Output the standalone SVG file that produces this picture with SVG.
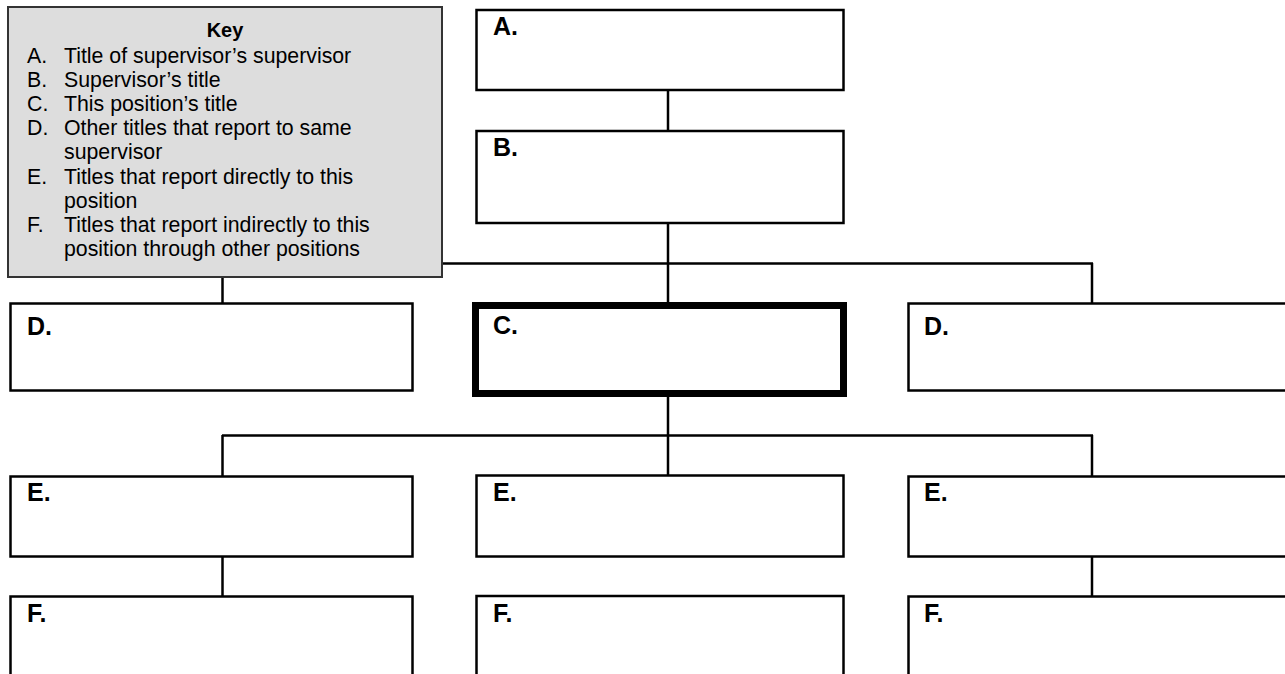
<svg xmlns="http://www.w3.org/2000/svg" width="1285" height="674" viewBox="0 0 1285 674">
  <style>
    .box { fill: #ffffff; stroke: #000000; stroke-width: 2.5; }
    .thick { fill: #ffffff; stroke: #000000; stroke-width: 7; }
    .lbl { font-family: "Liberation Sans", Arial, sans-serif; font-weight: bold; font-size: 25px; fill: #000000; }
    .conn { stroke: #000000; stroke-width: 2.5; fill: none; }
    .key { fill: #dddddd; stroke: #333333; stroke-width: 2; }
    .kt { font-family: "Liberation Sans", Arial, sans-serif; font-size: 21.3px; fill: #000000; }
    .kh { font-family: "Liberation Sans", Arial, sans-serif; font-size: 20px; font-weight: bold; fill: #000000; }
  </style>
  <rect width="1285" height="674" fill="#ffffff"/>
  <g id="connectors">
    <line class="conn" x1="668" y1="90" x2="668" y2="131"/>
    <line class="conn" x1="668" y1="223" x2="668" y2="303"/>
    <line class="conn" x1="222" y1="263.5" x2="1093" y2="263.5"/>
    <line class="conn" x1="222.5" y1="263" x2="222.5" y2="304"/>
    <line class="conn" x1="1092" y1="263" x2="1092" y2="304"/>
    <line class="conn" x1="668" y1="396" x2="668" y2="436"/>
    <line class="conn" x1="222" y1="435.5" x2="1093" y2="435.5"/>
    <line class="conn" x1="222.5" y1="435" x2="222.5" y2="477"/>
    <line class="conn" x1="668" y1="435" x2="668" y2="477"/>
    <line class="conn" x1="1092" y1="435" x2="1092" y2="477"/>
    <line class="conn" x1="222.5" y1="556" x2="222.5" y2="597"/>
    <line class="conn" x1="1092" y1="556" x2="1092" y2="597"/>
  </g>
  <g id="nodeA">
    <rect class="box" x="476.5" y="10" width="367" height="80"/>
    <text class="lbl" x="493" y="35">A.</text>
  </g>
  <g id="nodeB">
    <rect class="box" x="476.5" y="131" width="367" height="92"/>
    <text class="lbl" x="493" y="156">B.</text>
  </g>
  <g id="nodeD1">
    <rect class="box" x="10.5" y="303.5" width="402" height="87"/>
    <text class="lbl" x="27" y="335">D.</text>
  </g>
  <g id="nodeC">
    <rect class="thick" x="475.5" y="305.5" width="368" height="88"/>
    <text class="lbl" x="493" y="334">C.</text>
  </g>
  <g id="nodeD2">
    <rect class="box" x="908.5" y="303.5" width="400" height="87"/>
    <text class="lbl" x="924" y="335">D.</text>
  </g>
  <g id="nodeE1">
    <rect class="box" x="10.5" y="476.5" width="402" height="80"/>
    <text class="lbl" x="27" y="501">E.</text>
  </g>
  <g id="nodeE2">
    <rect class="box" x="476.5" y="475.5" width="367" height="81"/>
    <text class="lbl" x="493" y="501">E.</text>
  </g>
  <g id="nodeE3">
    <rect class="box" x="908.5" y="476.5" width="400" height="80"/>
    <text class="lbl" x="924" y="501">E.</text>
  </g>
  <g id="nodeF1">
    <rect class="box" x="10.5" y="596.5" width="402" height="100"/>
    <text class="lbl" x="27" y="622">F.</text>
  </g>
  <g id="nodeF2">
    <rect class="box" x="476.5" y="596" width="367" height="100"/>
    <text class="lbl" x="493" y="622">F.</text>
  </g>
  <g id="nodeF3">
    <rect class="box" x="908.5" y="596.5" width="400" height="100"/>
    <text class="lbl" x="924" y="622">F.</text>
  </g>
  <g id="key">
    <rect class="key" x="8" y="7" width="434" height="270"/>
    <text class="kh" x="225" y="37" text-anchor="middle">Key</text>
    <text class="kt" x="27" y="63">A.</text>
    <text class="kt" x="64" y="63">Title of supervisor’s supervisor</text>
    <text class="kt" x="27" y="87">B.</text>
    <text class="kt" x="64" y="87">Supervisor’s title</text>
    <text class="kt" x="27" y="111">C.</text>
    <text class="kt" x="64" y="111">This position’s title</text>
    <text class="kt" x="27" y="135">D.</text>
    <text class="kt" x="64" y="135">Other titles that report to same</text>
    <text class="kt" x="64" y="159">supervisor</text>
    <text class="kt" x="27" y="184">E.</text>
    <text class="kt" x="64" y="184">Titles that report directly to this</text>
    <text class="kt" x="64" y="208">position</text>
    <text class="kt" x="27" y="232">F.</text>
    <text class="kt" x="64" y="232">Titles that report indirectly to this</text>
    <text class="kt" x="64" y="256">position through other positions</text>
  </g>
</svg>
